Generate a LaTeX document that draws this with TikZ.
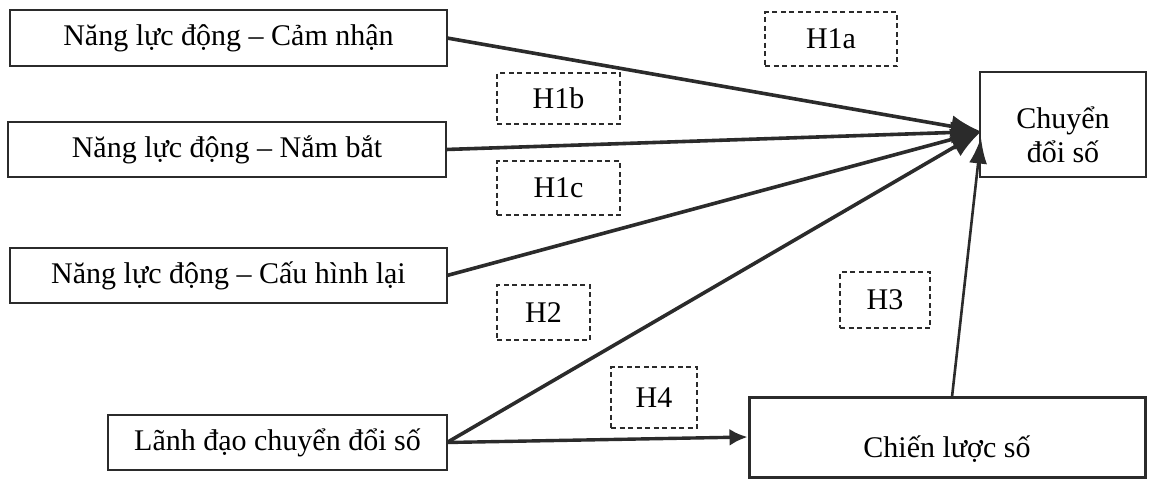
\documentclass[tikz,border=0pt]{standalone}
\usepackage{fontspec}
\setmainfont{Liberation Serif}
\usetikzlibrary{arrows.meta,calc}
\definecolor{ink}{HTML}{2B2B2B}
\begin{document}
\begin{tikzpicture}[x=1pt,y=-1pt,
  every node/.style={inner sep=0pt, outer sep=0pt, text=black},
  factor/.style={draw=ink, line width=2pt, minimum width=#1, align=center,
    font=\fontsize{30}{34}\selectfont},
  hyp/.style={draw=ink, line width=1.4pt, dash pattern=on 5pt off 3.5pt,
    font=\fontsize{30}{36}\selectfont},
  link/.style={draw=ink, line width=3.6pt, -{Latex[length=30pt,width=22pt]}},
  thinlink/.style={draw=ink, line width=2.6pt, -{Latex[length=26pt,width=18pt]}}
]
\useasboundingbox (0,0) rectangle (1152,479);

% independent constructs
\node[factor=437pt, minimum height=56pt] (sense) at (228.5,38) {Năng lực động – Cảm nhận};
\node[factor=438pt, minimum height=55pt] (seize) at (227,149.5) {Năng lực động – Nắm bắt};
\node[factor=437pt, minimum height=55pt] (reconf) at (228.5,275.5) {Năng lực động – Cấu hình lại};
\node[factor=339pt, minimum height=55pt] (lead) at (277.5,442.5) {Lãnh đạo chuyển đổi số};

% outcome and mediator
\node[factor=166pt, minimum height=105pt] (dt) at (1063,124.5)
  {\raisebox{-14pt}[\height][\depth]{\begin{tabular}{@{}c@{}}Chuyển\\đổi số\end{tabular}}};
\node[factor=396pt, minimum height=80pt, line width=3pt, text height=48pt, text depth=8pt] (strat) at (947,437) {Chiến lược số};

% hypothesis labels
\node[hyp, minimum width=132pt, minimum height=54pt] (h1a) at (831,39) {H1a};
\node[hyp, minimum width=123pt, minimum height=51pt] (h1b) at (558.5,98.5) {H1b};
\node[hyp, minimum width=123pt, minimum height=54pt] (h1c) at (558.5,188) {H1c};
\node[hyp, minimum width=93pt, minimum height=55pt] (h2) at (543.5,312.5) {H2};
\node[hyp, minimum width=90pt, minimum height=56pt] (h3) at (885,300) {H3};
\node[hyp, minimum width=86pt, minimum height=61pt] (h4) at (654,397.5) {H4};

% paths
\coordinate (tip) at ($(dt.west)+(1,7)$);
\draw[link] (sense.east) -- (tip);
\draw[link] (seize.east) -- (tip);
\draw[link] (reconf.east) -- (tip);
\draw[link] (lead.east) -- (tip);
\draw[thinlink] ($(strat.north)+(5,0)$) -- ($(dt.west)+(1,13)$);
\draw[draw=ink, line width=3.4pt, -{Latex[length=18pt,width=17pt]}] (lead.east) -- ($(strat.west)+(-1.5,0)$);
\end{tikzpicture}
\end{document}
